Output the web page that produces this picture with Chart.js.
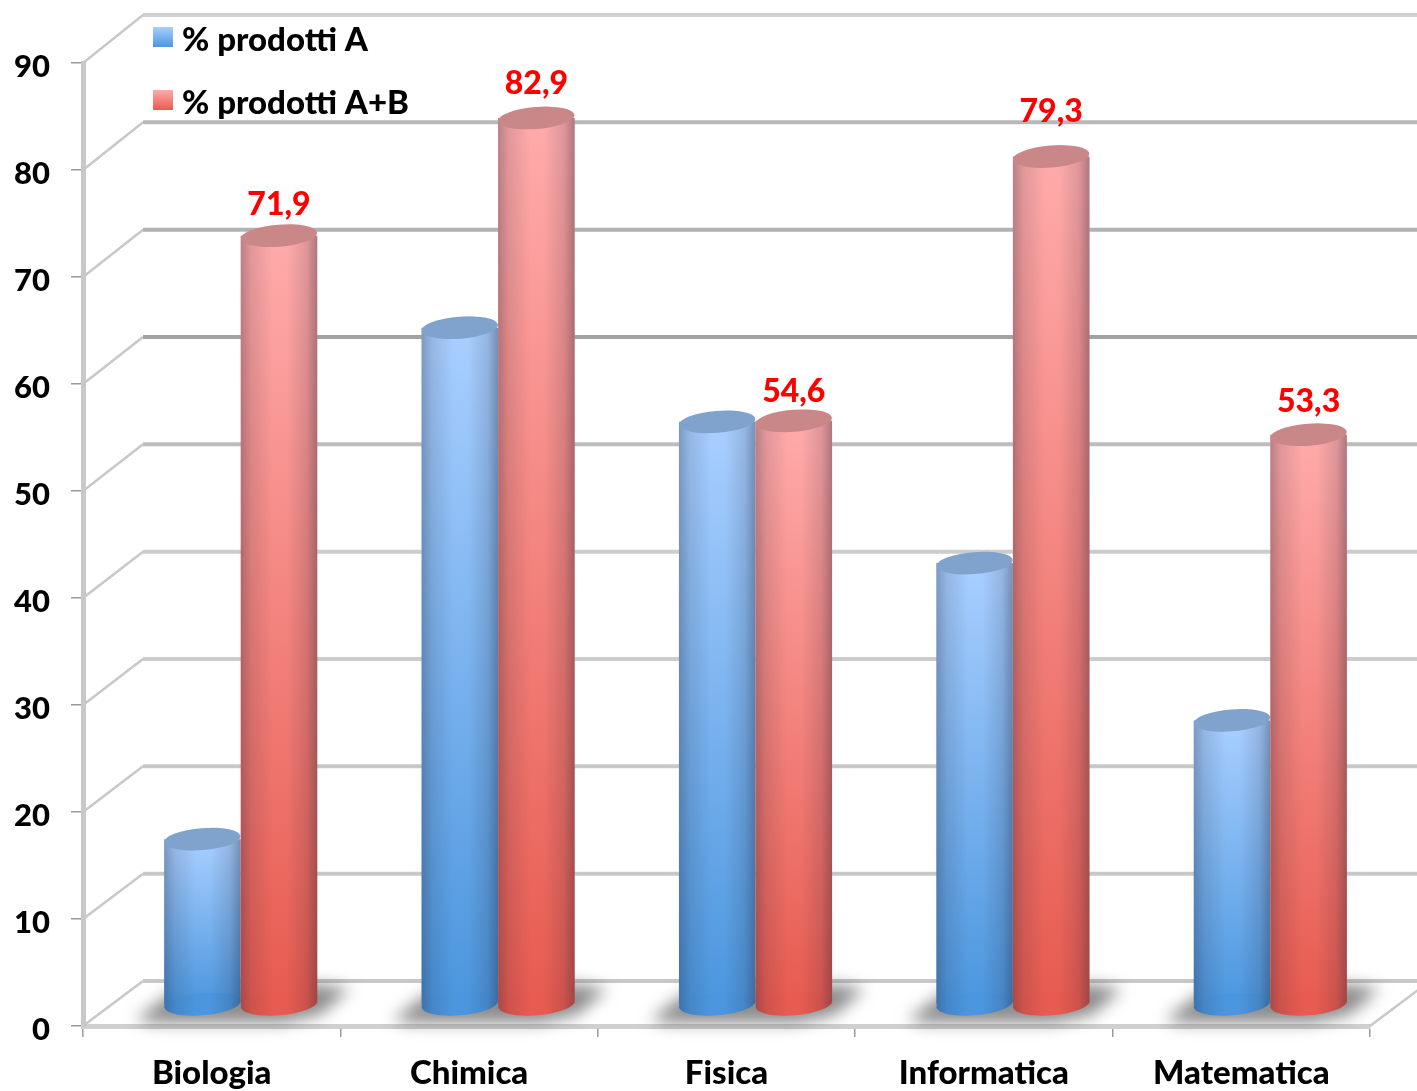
<!DOCTYPE html>
<html>
<head>
<meta charset="utf-8">
<title>Prodotti</title>
<script src="https://cdn.jsdelivr.net/npm/chart.js@4"></script>
<style>
  html, body { margin: 0; padding: 0; background: #fff; }
  canvas { display: block; }
</style>
</head>
<body>
<canvas id="myChart" width="1417" height="1091"></canvas>
<script>
const categories = ["Biologia", "Chimica", "Fisica", "Informatica", "Matematica"];
const seriesNames = ["% prodotti A", "% prodotti A+B"];
const valuesA = [15.5, 63.3, 54.5, 41.3, 26.6];
const valuesAB = [71.9, 82.9, 54.6, 79.3, 53.3];
const yTicks = [0, 10, 20, 30, 40, 50, 60, 70, 80, 90];

const FONT = "900 33px Lato";
const VALUE_FONT = "900 32px Lato";
const DEPTH_X = 60;
const blue = { top: "#a9cfff", bottom: "#4b96de", cap: "#7fa3cd" };
const red = { top: "#ffabab", bottom: "#e75b50", cap: "#c98788" };
const wallShades = ["#c8c8c8", "#c8c8c8", "#c8c8c8", "#cccccc", "#cccccc", "#bdbdbd", "#a2a2a2", "#b2b2b2", "#b8b8b8", "#d0d0d0"];
const labelLift = [31, 34, 29, 45, 33];

function depthY(v) {
  return 45 + v / 30;
}

function verticalFill(ctx, y1, y2, pal) {
  const g = ctx.createLinearGradient(0, y1, 0, y2);
  g.addColorStop(0, pal.top);
  g.addColorStop(1, pal.bottom);
  return g;
}

function barFill(pal) {
  return function (c) {
    if (!c.chart.chartArea || c.type !== "data") return pal.bottom;
    const s = c.chart.scales.y;
    return verticalFill(c.chart.ctx, s.getPixelForValue(c.raw), s.getPixelForValue(0), pal);
  };
}

// floor shadows and back wall, behind the bars
function drawWalls(chart) {
  const ctx = chart.ctx, y = chart.scales.y, x = chart.scales.x, a = chart.chartArea;
  ctx.save();
  yTicks.forEach((v, i) => {
    const py = y.getPixelForValue(v), back = py - depthY(v);
    ctx.strokeStyle = "#c8c8c8";
    ctx.lineWidth = 2.5;
    ctx.beginPath();
    ctx.moveTo(a.left, py);
    ctx.lineTo(a.left + DEPTH_X, back);
    ctx.stroke();
    ctx.strokeStyle = wallShades[i];
    ctx.lineWidth = 4;
    ctx.beginPath();
    ctx.moveTo(a.left + DEPTH_X, back);
    ctx.lineTo(chart.width, back);
    ctx.stroke();
  });
  ctx.strokeStyle = "#c8c8c8";
  ctx.lineWidth = 2.5;
  ctx.beginPath();
  ctx.moveTo(a.right, a.bottom);
  ctx.lineTo(a.right + DEPTH_X, a.bottom - depthY(0));
  ctx.stroke();

  ctx.filter = "blur(8px)";
  ctx.fillStyle = "rgba(95,95,95,0.72)";
  categories.forEach((c, i) => {
    const cx = x.getPixelForValue(i) + DEPTH_X / 2;
    const b = a.bottom;
    ctx.beginPath();
    ctx.moveTo(cx - 106, b - 6);
    ctx.lineTo(cx - 72, b - 32);
    ctx.lineTo(cx + 76, b - 42);
    ctx.lineTo(cx + 108, b - 37);
    ctx.lineTo(cx + 78, b - 11);
    ctx.lineTo(cx + 40, b - 3);
    ctx.lineTo(cx - 90, b - 3);
    ctx.closePath();
    ctx.fill();
  });
  ctx.restore();
}

function drawCylinder(ctx, bar, pal) {
  const rx = bar.width / 2, ry = 11, tilt = -0.08;
  const left = bar.x - rx, right = bar.x + rx;
  // rounded foot
  ctx.fillStyle = pal.bottom;
  ctx.beginPath();
  ctx.ellipse(bar.x, bar.base, rx, ry, tilt, 0, Math.PI * 2);
  ctx.fill();
  // side shading across the barrel
  const shade = ctx.createLinearGradient(left, 0, right, 0);
  shade.addColorStop(0, "rgba(30,30,50,0.30)");
  shade.addColorStop(0.14, "rgba(30,30,50,0.13)");
  shade.addColorStop(0.42, "rgba(30,30,50,0)");
  shade.addColorStop(0.6, "rgba(30,30,50,0)");
  shade.addColorStop(0.86, "rgba(30,30,50,0.14)");
  shade.addColorStop(1, "rgba(30,30,50,0.36)");
  ctx.fillStyle = shade;
  ctx.beginPath();
  ctx.moveTo(left, bar.y);
  ctx.lineTo(right, bar.y);
  ctx.lineTo(right, bar.base);
  ctx.ellipse(bar.x, bar.base, rx, ry, tilt, 0, Math.PI);
  ctx.closePath();
  ctx.fill();
  // cap
  ctx.fillStyle = pal.cap;
  ctx.beginPath();
  ctx.ellipse(bar.x, bar.y, rx, ry, tilt, 0, Math.PI * 2);
  ctx.fill();
}

const chart3d = {
  id: "chart3d",
  beforeDraw(chart) {
    // the reference prints the y labels a little under their ticks
    chart.scales.y.getLabelItems(chart.chartArea).forEach(item => {
      if (!item.moved) {
        item.options.translation[1] += 4;
        item.moved = true;
      }
    });
  },
  beforeDatasetsDraw(chart) {
    drawWalls(chart);
    chart.ctx.save();
    chart.ctx.translate(DEPTH_X / 2 - 1, -21);
  },
  // A+B has to sit over A, so it is held back and drawn after A
  beforeDatasetDraw(chart, args) {
    if (args.index === 1) return false;
  },
  afterDatasetDraw(chart, args) {
    const ctx = chart.ctx;
    args.meta.data.forEach(bar => drawCylinder(ctx, bar, blue));
    const metaAB = chart.getDatasetMeta(1);
    metaAB.controller.draw();
    metaAB.data.forEach(bar => drawCylinder(ctx, bar, red));
  },
  afterDatasetsDraw(chart) {
    const ctx = chart.ctx;
    // value labels, only on the A+B series
    ctx.font = VALUE_FONT;
    ctx.fillStyle = "#ff0000";
    ctx.textAlign = "center";
    ctx.textBaseline = "middle";
    chart.getDatasetMeta(1).data.forEach((bar, i) => {
      ctx.fillText(valuesAB[i].toFixed(1).replace(".", ","), bar.x, bar.y - labelLift[i]);
    });
    ctx.restore();
    // legend
    ctx.save();
    ctx.font = FONT;
    ctx.textAlign = "left";
    ctx.textBaseline = "middle";
    [blue, red].forEach((pal, i) => {
      const top = 27 + i * 63;
      ctx.fillStyle = verticalFill(ctx, top, top + 20, pal);
      ctx.fillRect(153, top, 20, 20);
      ctx.fillStyle = "#000";
      ctx.fillText(seriesNames[i], 182, top + 13);
    });
    ctx.restore();
  }
};

new Chart(document.getElementById("myChart"), {
  type: "bar",
  data: {
    labels: categories,
    datasets: [
      { label: seriesNames[0], data: valuesA, backgroundColor: barFill(blue), clip: false },
      { label: seriesNames[1], data: valuesAB, backgroundColor: barFill(red), clip: false }
    ]
  },
  options: {
    responsive: false,
    animation: false,
    devicePixelRatio: 1,
    layout: { padding: { top: 63, right: 47, left: 0, bottom: 0 } },
    categoryPercentage: 0.595,
    barPercentage: 1,
    plugins: { legend: { display: false }, tooltip: { enabled: false } },
    scales: {
      x: {
        afterFit(s) { s.height = 65; },
        border: { color: "#d0d0d0", width: 5 },
        grid: { drawOnChartArea: false, tickLength: 11, color: "#9a9a9a", lineWidth: 1.5 },
        ticks: { color: "#000", font: { family: "Lato", size: 33, weight: "900" }, padding: 17, maxRotation: 0 }
      },
      y: {
        min: 0,
        max: 90,
        afterFit(s) { s.width = 83; },
        border: { color: "#c8c8c8", width: 5 },
        grid: { drawOnChartArea: false, tickLength: 12, color: "#9a9a9a", lineWidth: 1.5 },
        ticks: { stepSize: 10, color: "#000", font: { family: "Lato", size: 31, weight: "900" }, padding: 21 }
      }
    }
  },
  plugins: [chart3d]
});
</script>
</body>
</html>
